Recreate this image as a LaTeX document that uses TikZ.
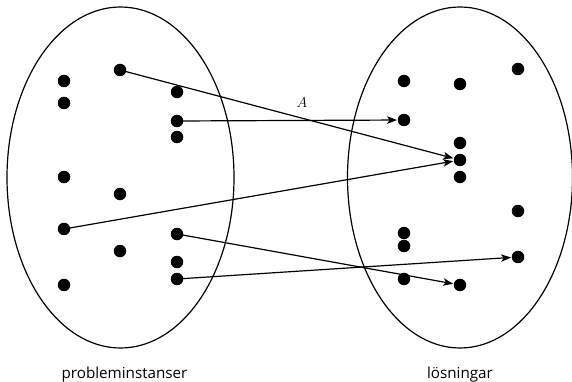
\documentclass[tikz,border=0pt]{standalone}
\usepackage{fontspec}
\setmainfont{Open Sans}
\usetikzlibrary{arrows.meta}
\tikzset{
  dot/.style={circle,fill=black,inner sep=0pt,minimum size=12.5pt},
  set/.style={draw,line width=1.2pt},
  map/.style={line width=1.2pt,-{Stealth[length=10pt,width=7.5pt,inset=2.5pt]},shorten >=0.5pt},
  captext/.style={font=\fontsize{15.2}{17}\selectfont,anchor=base,inner sep=0pt}
}
\begin{document}
\begin{tikzpicture}[x=1pt,y=-1pt]
\useasboundingbox (0,0) rectangle (572,382);
\draw[set] (120.5,177.5) ellipse [x radius=113.5, y radius=170.5];
\draw[set] (460,177.5) ellipse [x radius=112.5, y radius=170.5];
% left dots
\node[dot] (l1) at (64,81) {};
\node[dot] (l2) at (64,103) {};
\node[dot] (l3) at (120,70) {};
\node[dot] (l4) at (177,92) {};
\node[dot] (l5) at (177,121) {};
\node[dot] (l6) at (177,137) {};
\node[dot] (l7) at (64,177) {};
\node[dot] (l8) at (120,194) {};
\node[dot] (l9) at (64,229) {};
\node[dot] (l10) at (177,234) {};
\node[dot] (l11) at (120,251) {};
\node[dot] (l12) at (177,262) {};
\node[dot] (l13) at (177,279) {};
\node[dot] (l14) at (64,285) {};
% right dots
\node[dot] (r1) at (404,81) {};
\node[dot] (r2) at (460,84) {};
\node[dot] (r3) at (518,69) {};
\node[dot] (r4) at (404,120) {};
\node[dot] (r5) at (460,143) {};
\node[dot] (r6) at (460,160) {};
\node[dot] (r7) at (460,177) {};
\node[dot] (r8) at (518,211) {};
\node[dot] (r9) at (404,233) {};
\node[dot] (r10) at (404,246) {};
\node[dot] (r11) at (518,257) {};
\node[dot] (r12) at (404,279) {};
\node[dot] (r13) at (460,285) {};
% arrows
\draw[map] (l3.center) -- (r6);
\draw[map] (l5.center) -- (r4);
\draw[map] (l9.center) -- (r6);
\draw[map] (l10.center) -- (r13);
\draw[map] (l13.center) -- (r11);
\node[font=\Large] (A) at (302,102.5) {$A$};
% captions
\node[captext] (p) at (124.5,378) {probleminstanser};
\node[captext] (q) at (460,378) {lösningar};
\end{tikzpicture}
\end{document}
